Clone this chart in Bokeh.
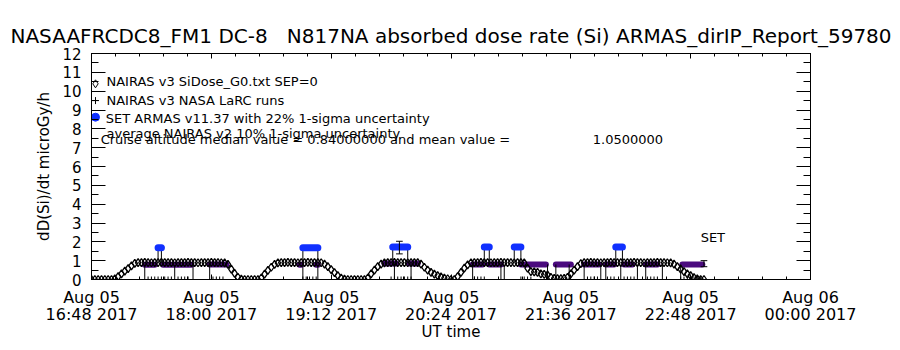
from bokeh.plotting import figure
from bokeh.models import FixedTicker, LinearAxis, Label, Range1d, CustomLabelingPolicy
from bokeh.embed import file_html
from bokeh.resources import INLINE

# ---------------- data ----------------
x_tick_clock = ["16:48", "18:00", "19:12", "20:24", "21:36", "22:48", "00:00"]
x_tick_dates = ["Aug 05", "Aug 05", "Aug 05", "Aug 05", "Aug 05", "Aug 05", "Aug 06"]
x_tick_year = "2017"
y_ticks = list(range(0, 13))

# NAIRAS v3 SiDose_G0 (diamonds), sampled every 2 minutes from 16:48 UT
nairas_v3_start = "16:48"
nairas_v3_step_min = 2
nairas_v3 = [
    # flight 1
    0, 0, 0, 0, 0, 0, 0, 0.03,
    0.15, 0.3, 0.45, 0.58, 0.72, 0.86,
    0.9, 0.9, 0.91, 0.9, 0.89, 0.9, 0.9, 0.91, 0.9, 0.9, 0.9, 0.89, 0.9, 0.9,
    0.9, 0.91, 0.9, 0.9, 0.89, 0.9, 0.9, 0.9, 0.91, 0.9, 0.9, 0.89, 0.88,
    0.8, 0.55, 0.32, 0.12, 0.02,
    0, 0, 0, 0, 0,
    # flight 2
    0.08, 0.28, 0.48, 0.65, 0.8, 0.88,
    0.9, 0.9, 0.91, 0.9, 0.9, 0.89, 0.9, 0.9, 0.91, 0.9, 0.9, 0.9, 0.89,
    0.82, 0.68, 0.52, 0.36, 0.2, 0.08, 0.02,
    0, 0, 0, 0, 0, 0,
    # flight 3
    0.08, 0.3, 0.5, 0.68, 0.82, 0.88,
    0.9, 0.9, 0.91, 0.9, 0.9, 0.9, 0.89, 0.9, 0.9, 0.9,
    0.82, 0.65, 0.5, 0.38, 0.28, 0.2, 0.14, 0.08, 0.04,
    0, 0,
    # flight 4 / 5
    0.15, 0.38, 0.6, 0.78, 0.88,
    0.9, 0.9, 0.91, 0.9, 0.9, 0.89, 0.9, 0.9, 0.91, 0.9, 0.9, 0.9, 0.89, 0.9, 0.9, 0.88,
    0.6, 0.42, 0.4, 0.38, 0.3, 0.27, 0.25, 0.12, 0.06, 0.05, 0.05, 0.06, 0.12, 0.3, 0.5, 0.68, 0.84,
    0.9, 0.9, 0.91, 0.9, 0.9, 0.89, 0.9, 0.9, 0.91, 0.9, 0.9, 0.9, 0.89, 0.9,
    0.9, 0.91, 0.9, 0.9, 0.89, 0.9, 0.9, 0.9, 0.91, 0.9, 0.9, 0.89, 0.88,
    0.82, 0.68, 0.55, 0.42, 0.3, 0.2, 0.1, 0.03,
    0, 0,
]

# NAIRAS v3 LaRC runs (+), times with value 0
larc_times = ["17:22", "17:24", "17:26", "17:28", "17:30", "17:32", "17:34", "17:36",
              "17:40", "17:42", "17:44", "17:46", "18:01", "18:03", "18:05", "18:07",
              "18:55", "18:57", "18:59", "19:01", "19:03",
              "19:48", "19:50", "19:52", "19:54", "19:56", "19:58", "20:00",
              "20:38", "20:40", "20:42", "20:44", "21:06", "21:08", "21:10", "21:12",
              "21:46", "21:48", "21:50", "21:52", "21:58", "22:00", "22:02",
              "22:08", "22:10", "22:12", "22:14", "22:22", "22:24", "22:26", "22:28",
              "22:42", "22:44", "22:46", "22:48", "22:50", "22:52", "22:54"]
larc_values = [0] * len(larc_times)

# average NAIRAS v2 (purple bars): start, end, value
v2_start = ["17:20", "17:31", "17:59", "18:53", "19:03", "19:44", "19:59",
            "20:37", "20:47", "21:06", "21:27", "21:44", "21:57", "22:08", "22:21", "22:43"]
v2_end = ["17:26", "17:48", "18:09", "18:54", "19:04", "19:51", "20:04",
          "20:43", "20:54", "21:21", "21:36", "21:53", "22:02", "22:13", "22:28", "22:55"]
v2_value = [0.78, 0.78, 0.8, 0.78, 0.78, 0.85, 0.85,
            0.8, 0.8, 0.8, 0.8, 0.8, 0.8, 0.8, 0.8, 0.8]

# drop lines from the v2 level to zero
drop_times = ["17:20", "17:38", "17:49", "17:59", "18:55", "19:04", "19:50", "20:00",
              "20:37", "20:54", "20:56", "21:22", "21:27", "21:35",
              "21:44", "21:54", "21:57", "22:06", "22:16", "22:21", "22:31", "22:42"]
drop_values = [0.78, 0.78, 0.78, 0.8, 0.78, 0.78, 0.85, 0.85,
               0.8, 0.8, 0.8, 0.8, 0.8, 0.8,
               0.8, 0.8, 0.8, 0.8, 0.8, 0.8, 0.8, 0.8]

# SET ARMAS v11.37 (blue): start, end, value
armas_start = ["17:28", "18:55", "19:49", "20:44", "21:02", "22:03"]
armas_end = ["17:30", "19:04", "19:58", "20:47", "21:06", "22:07"]
armas_value = [1.68, 1.68, 1.72, 1.72, 1.72, 1.72]
armas_base = 0.9

# representative error bars
err_times = ["19:53", "22:56"]
err_low = [1.36, 0.68]
err_high = [2.03, 1.0]

cruise_median = "0.84000000"
cruise_mean = "1.0500000"


def tmin(s):
    """minutes since Aug 05 2017 16:48 UT"""
    h, m = map(int, s.split(":"))
    mins = h * 60 + m - (16 * 60 + 48)
    if mins < -60:
        mins += 1440
    return mins


BLUE = "#1030ff"
PURPLE = "#4a0a7e"
FONT = "DejaVu Sans"

p = figure(width=900, height=350, output_backend="svg", toolbar_location=None,
           x_range=Range1d(0, 432), y_range=Range1d(0, 12),
           min_border_left=91, min_border_right=90, min_border_top=53, min_border_bottom=71,
           background_fill_color="white", border_fill_color="white")
p.grid.visible = False
p.outline_line_color = "black"
p.outline_line_width = 1

NB = "\u00a0"
p.title.text = "NASAAFRCDC8_FM1 DC-8" + NB * 3 + "N817NA absorbed dose rate (Si) ARMAS_dirIP_Report_59780"
p.title.align = "center"
p.title.text_font = FONT
p.title.text_font_size = "20px"
p.title.text_font_style = "normal"
p.title.text_color = "black"
p.title.standoff = 3

xt = [tmin(c) for c in x_tick_clock]
x_minor = [i * 14.4 for i in range(31)]
x_labels = {int(t): f"{d}\n{c} {x_tick_year}" for t, d, c in zip(xt, x_tick_dates, x_tick_clock)}
y_minor = [i * 0.5 for i in range(25)]

xa = p.xaxis[0]
xa.ticker = FixedTicker(ticks=xt, minor_ticks=x_minor)
xa.major_label_overrides = x_labels
xa.axis_label = "UT time"
ya = p.yaxis[0]
ya.ticker = FixedTicker(ticks=y_ticks, minor_ticks=y_minor)
ya.axis_label = "dD(Si)/dt microGy/h"

no_labels = "for (const i of indices) { indices.unset(i) }\nreturn indices"
top = LinearAxis(ticker=FixedTicker(ticks=xt, minor_ticks=x_minor),
                 major_label_policy=CustomLabelingPolicy(code=no_labels))
right = LinearAxis(ticker=FixedTicker(ticks=y_ticks, minor_ticks=y_minor),
                   major_label_policy=CustomLabelingPolicy(code=no_labels))
p.add_layout(top, "above")
p.add_layout(right, "right")

for ax in [xa, top]:
    ax.major_tick_in = 5
    ax.major_tick_out = 0
    ax.minor_tick_in = 3
    ax.minor_tick_out = 0
for ax in [ya, right]:
    ax.major_tick_in = 14
    ax.major_tick_out = 0
    ax.minor_tick_in = 7
    ax.minor_tick_out = 0
for ax in [xa, ya, top, right]:
    ax.axis_line_color = "black"
    ax.major_tick_line_color = "black"
    ax.minor_tick_line_color = "black"
    ax.major_label_text_font = FONT
    ax.major_label_text_font_size = "15px"
    ax.major_label_text_color = "black"
    ax.axis_label_text_font = FONT
    ax.axis_label_text_font_size = "15px"
    ax.axis_label_text_font_style = "normal"
    ax.axis_label_text_color = "black"
top.major_label_text_font_size = "1px"
top.major_label_standoff = 0
right.major_label_text_font_size = "1px"
right.major_label_standoff = 0
xa.major_label_text_font_size = "16px"
xa.major_label_text_line_height = 0.9
xa.major_label_standoff = 8
xa.axis_label_standoff = -4
ya.major_label_standoff = 10
ya.axis_label_standoff = 6

# purple NAIRAS v2 bars
v2x0 = [tmin(s) for s in v2_start]
v2x1 = [tmin(s) for s in v2_end]
p.segment(x0=v2x0, y0=v2_value, x1=v2x1, y1=v2_value, line_color=PURPLE, line_width=6, line_cap="round")

# drop lines
dx = [tmin(s) for s in drop_times]
p.segment(x0=dx, y0=[0] * len(dx), x1=dx, y1=drop_values, line_color="black", line_width=1)

# NAIRAS v3 diamonds
t0 = tmin(nairas_v3_start)
nx = [t0 + i * nairas_v3_step_min for i in range(len(nairas_v3))]
p.scatter(x=nx, y=nairas_v3, marker="diamond", size=8, fill_color=None, line_color="black", line_width=1.3)

# LaRC +
lx = [tmin(s) for s in larc_times]
p.scatter(x=lx, y=larc_values, marker="cross", size=6, line_color="black", line_width=1)

# ARMAS blue bars with verticals
ax0 = [tmin(s) for s in armas_start]
ax1 = [tmin(s) for s in armas_end]
p.segment(x0=ax0 + ax1, y0=[armas_base] * (2 * len(ax0)), x1=ax0 + ax1, y1=armas_value + armas_value,
          line_color="black", line_width=1)
p.segment(x0=ax0, y0=armas_value, x1=ax1, y1=armas_value, line_color=BLUE, line_width=7, line_cap="round")

# error bars
ex = [tmin(s) for s in err_times]
p.segment(x0=ex, y0=err_low, x1=ex, y1=err_high, line_color="black", line_width=1)
p.segment(x0=[e - 2 for e in ex], y0=err_low, x1=[e + 2 for e in ex], y1=err_low, line_color="black", line_width=1)
p.segment(x0=[e - 2 for e in ex], y0=err_high, x1=[e + 2 for e in ex], y1=err_high, line_color="black", line_width=1)

# legend symbols
p.scatter(x=[2.4], y=[10.39], marker="diamond", size=8, fill_color=None, line_color="black")
p.scatter(x=[2.4], y=[9.5], marker="cross", size=7, line_color="black")
p.scatter(x=[2.4], y=[8.62], marker="circle", size=8, fill_color=BLUE, line_color=BLUE)

cruise_text = ("Cruise altitude median value = " + cruise_median + " and mean value =" + NB * 20 + cruise_mean)
legend_lines = [
    ("NAIRAS v3 SiDose_G0.txt SEP=0", 9.0, 10.52),
    ("NAIRAS v3 NASA LaRC runs", 9.0, 9.53),
    ("SET ARMAS v11.37 with 22% 1-sigma uncertainty", 8.6, 8.55),
    ("average NAIRAS v2 10% 1-sigma uncertainty", 9.0, 7.75),
    (cruise_text, 5.5, 7.45),
]
for txt, lx_, ly_ in legend_lines:
    p.add_layout(Label(x=lx_, y=ly_, text=txt, text_font=FONT, text_font_size="13px",
                       text_baseline="middle", text_color="black"))

p.add_layout(Label(x=366, y=2.23, text="SET", text_font=FONT, text_font_size="13px",
                   text_baseline="middle", text_color="black"))

open("out.html", "w").write(file_html(p, INLINE))
